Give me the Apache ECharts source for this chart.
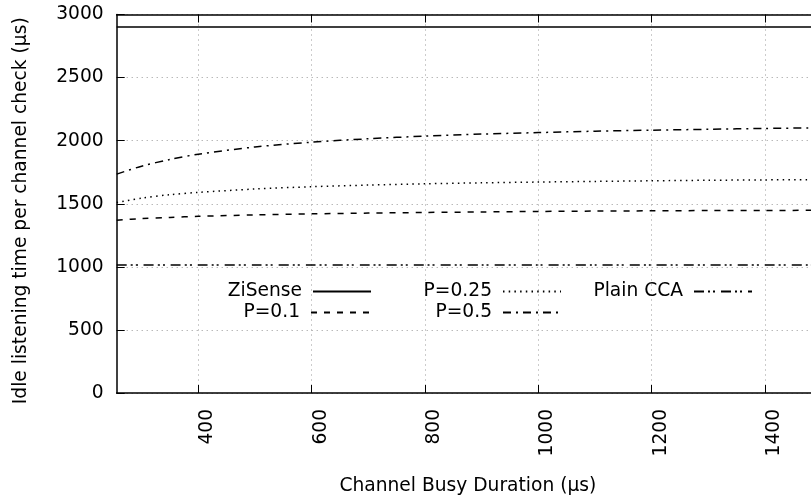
<!DOCTYPE html>
<html>
<head>
<meta charset="utf-8">
<script src="https://cdn.jsdelivr.net/npm/echarts@6/dist/echarts.min.js"></script>
<style>
  html, body { margin: 0; padding: 0; background: #fff; }
  #chart { width: 811px; height: 501px; }
</style>
</head>
<body>
<div id="chart"></div>
<script>
// channel busy duration (µs) sampled along the x axis
const busyDuration = [256, 300, 350, 400, 500, 600, 700, 800, 900, 1000, 1100, 1200, 1300, 1400, 1500];
// idle listening time per channel check (µs)
const ziSense = [2900, 2900, 2900, 2900, 2900, 2900, 2900, 2900, 2900, 2900, 2900, 2900, 2900, 2900, 2900];
const p01 = [1370, 1382, 1392, 1400, 1412, 1420, 1426, 1431, 1435, 1439, 1442, 1444, 1446, 1447, 1448];
const p025 = [1510, 1545, 1572, 1590, 1617, 1635, 1648, 1658, 1666, 1672, 1677, 1682, 1686, 1689, 1691];
const p05 = [1735, 1798, 1851, 1893, 1950, 1988, 2015, 2036, 2052, 2064, 2075, 2083, 2090, 2097, 2102];
const plainCca = [1015, 1015, 1015, 1015, 1015, 1015, 1015, 1015, 1015, 1015, 1015, 1015, 1015, 1015, 1015];

const xTicks = [400, 600, 800, 1000, 1200, 1400];

const font = 'DejaVu Sans';
const fs = 18.67;
const chart = echarts.init(document.getElementById('chart'));

const pairs = (ys) => busyDuration.map((x, i) => [x, ys[i]]);

const makeSeries = (name, ys, dash) => ({
    name: name,
    type: 'line',
    data: pairs(ys),
    symbol: 'none',
    smooth: 0.3,
    clip: true,
    lineStyle: { color: '#000', width: 1.5, type: dash, cap: 'butt' },
    itemStyle: { color: '#000' },
    z: 3
});

// gnuplot style key: text on the left, sample line on the right
const keyEntry = (name, right, top) => ({
    data: [name],
    right: right,
    top: top,
    padding: 0,
    align: 'right',
    itemWidth: 58,
    itemHeight: 20,
    selectedMode: false,
    itemStyle: { opacity: 0 },
    textStyle: { fontFamily: font, fontSize: fs, color: '#000', lineHeight: 20, padding: [0, 6, 0, 0] }
});

const plain = (v) => String(v);

const option = {
    backgroundColor: '#fff',
    animation: false,
    // the plot box runs past the right edge of the picture
    grid: { left: 116.7, top: 14.5, right: 0, bottom: 107.5 },
    legend: [
        keyEntry('ZiSense', 439, 281.5),
        keyEntry('P=0.1', 441, 302.5),
        keyEntry('P=0.25', 249, 281.5),
        keyEntry('P=0.5', 249, 302.5),
        keyEntry('Plain CCA', 58, 281.5)
    ],
    xAxis: [
        {
            type: 'value',
            min: 256,
            max: 1481,
            position: 'bottom',
            name: 'Channel Busy Duration (µs)',
            nameLocation: 'middle',
            nameGap: 84,
            nameTextStyle: { fontFamily: font, fontSize: fs, color: '#000', padding: [0, 0, 0, 8] },
            axisLine: { show: true, lineStyle: { color: '#000', width: 1.5 } },
            axisTick: { show: true, inside: true, length: 8, customValues: xTicks, lineStyle: { color: '#000' } },
            axisLabel: {
                customValues: xTicks,
                formatter: plain,
                rotate: 90,
                margin: 16,
                verticalAlign: 'top',
                lineHeight: 18,
                fontFamily: font,
                fontSize: fs,
                color: '#000'
            },
            splitLine: { show: true, lineStyle: { color: '#999', width: 1, type: [1, 4] } }
        },
        {
            type: 'value',
            min: 256,
            max: 1481,
            position: 'top',
            axisLine: { show: true, lineStyle: { color: '#000', width: 1.5 } },
            axisTick: { show: true, inside: true, length: 8, customValues: xTicks, lineStyle: { color: '#000' } },
            axisLabel: { show: false },
            splitLine: { show: false }
        }
    ],
    yAxis: {
        type: 'value',
        min: 0,
        max: 3000,
        interval: 500,
        name: 'Idle listening time per channel check (µs)',
        nameLocation: 'middle',
        nameGap: 86,
        nameTextStyle: { fontFamily: font, fontSize: fs, color: '#000', padding: [0, 14, 0, 0] },
        axisLine: { show: true, lineStyle: { color: '#000', width: 1.5 } },
        axisTick: { show: true, inside: true, length: 8, lineStyle: { color: '#000' } },
        axisLabel: { margin: 13, formatter: plain, fontFamily: font, fontSize: fs, color: '#000' },
        splitLine: { show: true, lineStyle: { color: '#999', width: 1, type: [1, 4] } }
    },
    series: [
        makeSeries('ZiSense', ziSense, 'solid'),
        makeSeries('P=0.1', p01, [6, 7]),
        makeSeries('P=0.25', p025, [1.5, 4.2]),
        makeSeries('P=0.5', p05, [8, 5, 2, 5]),
        makeSeries('Plain CCA', plainCca, [10, 4, 2, 3, 2, 6])
    ]
};

chart.setOption(option);
</script>
</body>
</html>
